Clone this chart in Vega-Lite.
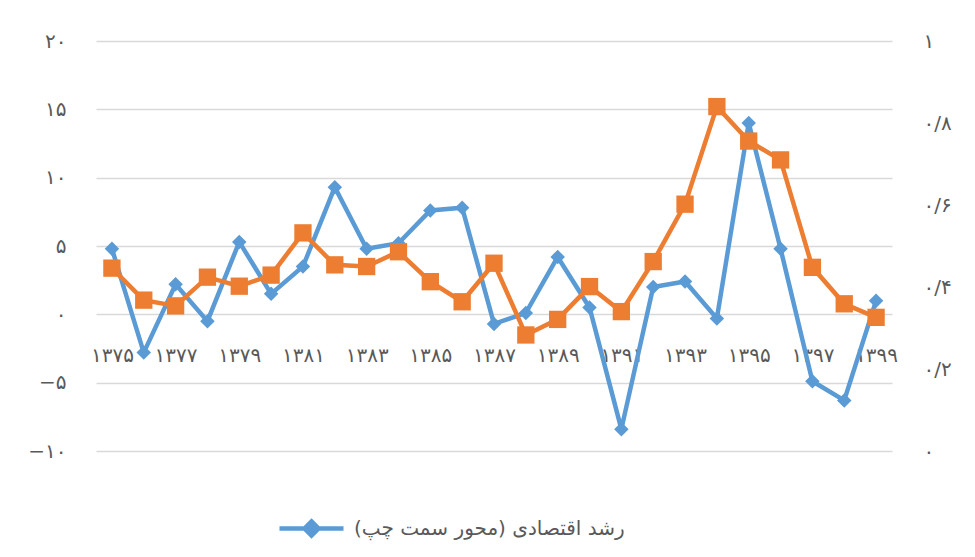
{
  "$schema": "https://vega.github.io/schema/vega-lite/v6.json",
  "autosize": {"type": "none"},
  "padding": {"left": 96, "top": 41, "right": 83, "bottom": 106},
  "width": 796,
  "height": 410,
  "background": "white",
  "config": {
    "view": {"stroke": null},
    "font": "DejaVu Sans",
    "axis": {"labelFont": "DejaVu Sans", "labelColor": "#595959", "labelFontSize": 20, "domain": false, "ticks": false, "title": null}
  },
  "data": {
    "values": [
      {"year": 1375, "growth": 4.8, "index": 0.446},
      {"year": 1376, "growth": -2.8, "index": 0.368},
      {"year": 1377, "growth": 2.2, "index": 0.354},
      {"year": 1378, "growth": -0.5, "index": 0.424},
      {"year": 1379, "growth": 5.3, "index": 0.402},
      {"year": 1380, "growth": 1.5, "index": 0.429},
      {"year": 1381, "growth": 3.5, "index": 0.532},
      {"year": 1382, "growth": 9.3, "index": 0.454},
      {"year": 1383, "growth": 4.8, "index": 0.45},
      {"year": 1384, "growth": 5.2, "index": 0.486},
      {"year": 1385, "growth": 7.6, "index": 0.413},
      {"year": 1386, "growth": 7.8, "index": 0.364},
      {"year": 1387, "growth": -0.7, "index": 0.458},
      {"year": 1388, "growth": 0.1, "index": 0.283},
      {"year": 1389, "growth": 4.2, "index": 0.321},
      {"year": 1390, "growth": 0.5, "index": 0.401},
      {"year": 1391, "growth": -8.4, "index": 0.34},
      {"year": 1392, "growth": 2.0, "index": 0.462},
      {"year": 1393, "growth": 2.4, "index": 0.602},
      {"year": 1394, "growth": -0.3, "index": 0.84},
      {"year": 1395, "growth": 14.0, "index": 0.756},
      {"year": 1396, "growth": 4.8, "index": 0.71},
      {"year": 1397, "growth": -4.9, "index": 0.448},
      {"year": 1398, "growth": -6.3, "index": 0.359},
      {"year": 1399, "growth": 1.0, "index": 0.326}
    ]
  },
  "encoding": {
    "x": {
      "field": "year",
      "type": "ordinal",
      "scale": {"type": "point", "padding": 0.5},
      "axis": {
        "orient": "bottom",
        "offset": -136.67,
        "labelAngle": 0,
        "labelPadding": 31,
        "grid": false,
        "values": [1375, 1377, 1379, 1381, 1383, 1385, 1387, 1389, 1391, 1393, 1395, 1397, 1399],
        "labelExpr": "replace(replace(replace(replace(replace(replace(replace(replace(replace(replace(datum.label,regexp('0','g'),'۰'),regexp('1','g'),'۱'),regexp('2','g'),'۲'),regexp('3','g'),'۳'),regexp('4','g'),'۴'),regexp('5','g'),'۵'),regexp('6','g'),'۶'),regexp('7','g'),'۷'),regexp('8','g'),'۸'),regexp('9','g'),'۹')"
      }
    }
  },
  "layer": [
    {
      "mark": {"type": "line", "strokeWidth": 4.5, "point": {"shape": "diamond", "size": 210, "filled": true, "opacity": 1}},
      "encoding": {
        "y": {
          "field": "growth",
          "type": "quantitative",
          "scale": {"domain": [-10, 20], "nice": false},
          "axis": {
            "orient": "left",
            "values": [-10, -5, 0, 5, 10, 15, 20],
            "grid": true,
            "gridColor": "#d9d9d9",
            "gridWidth": 1.5,
            "labelPadding": 30,
            "labelExpr": "replace(replace(replace(replace(replace(replace(replace(replace(replace(replace(datum.label,regexp('0','g'),'۰'),regexp('1','g'),'۱'),regexp('2','g'),'۲'),regexp('3','g'),'۳'),regexp('4','g'),'۴'),regexp('5','g'),'۵'),regexp('6','g'),'۶'),regexp('7','g'),'۷'),regexp('8','g'),'۸'),regexp('9','g'),'۹')"
          }
        },
        "color": {
          "datum": "رشد اقتصادی (محور سمت چپ)‏",
          "type": "nominal",
          "scale": {"range": ["#5B9BD5"]},
          "legend": {
            "title": null,
            "orient": "none",
            "legendX": 181,
            "legendY": 453,
            "padding": 0,
            "symbolType": "M-1,0L1,0M0,-0.22L0.22,0L0,0.22L-0.22,0Z",
            "symbolSize": 4096,
            "symbolStrokeWidth": 4.5,
            "symbolStrokeColor": "#5B9BD5",
            "symbolFillColor": "#5B9BD5",
            "labelFont": "DejaVu Sans",
            "labelFontSize": 20,
            "labelColor": "#595959",
            "labelOffset": 8,
            "labelLimit": 400
          }
        }
      }
    },
    {
      "mark": {"type": "line", "color": "#ED7D31", "strokeWidth": 4.5, "point": {"shape": "square", "size": 300, "filled": true, "color": "#ED7D31", "opacity": 1}},
      "encoding": {
        "y": {
          "field": "index",
          "type": "quantitative",
          "scale": {"domain": [0, 1], "nice": false},
          "axis": {
            "orient": "right",
            "values": [0, 0.2, 0.4, 0.6, 0.8, 1],
            "format": ".1~f",
            "grid": false,
            "labelPadding": 31,
            "labelExpr": "replace(replace(replace(replace(replace(replace(replace(replace(replace(replace(replace(datum.label,'.','/'),regexp('0','g'),'۰'),regexp('1','g'),'۱'),regexp('2','g'),'۲'),regexp('3','g'),'۳'),regexp('4','g'),'۴'),regexp('5','g'),'۵'),regexp('6','g'),'۶'),regexp('7','g'),'۷'),regexp('8','g'),'۸'),regexp('9','g'),'۹')"
          }
        }
      }
    }
  ],
  "resolve": {"scale": {"y": "independent"}}
}
